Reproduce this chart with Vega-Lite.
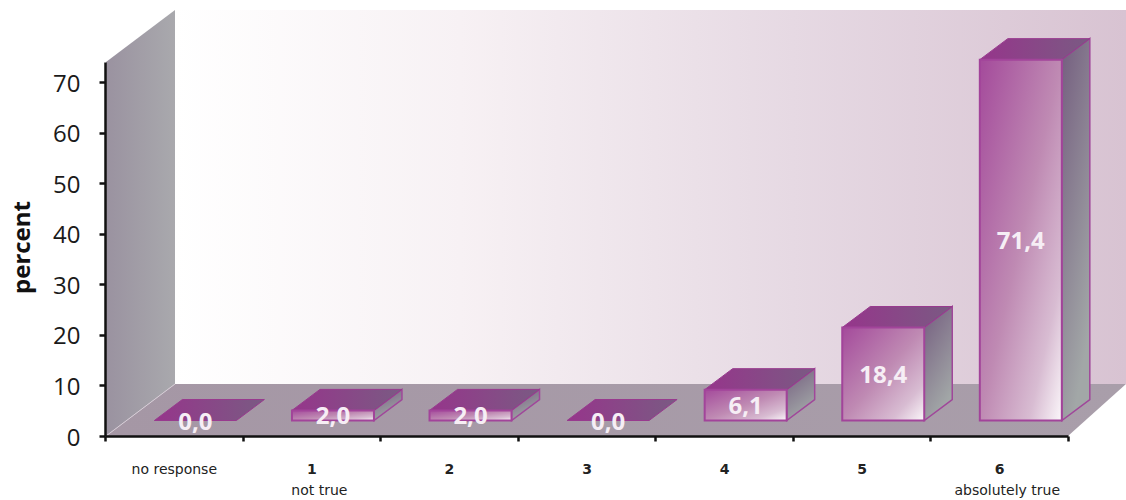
{
"$schema":"https://vega.github.io/schema/vega-lite/v6.json",
"width":963,"height":374,
"autosize":{"type":"none"},
"padding":{"left":105,"top":62,"right":58,"bottom":64},
"background":"white",
"config":{"view":{"stroke":null},"font":"Open Sans"},
"datasets":{
 "bars":[
  {"category":"no response","value":0.0,"label":"0,0","note":""},
  {"category":"1","value":2.0,"label":"2,0","note":"not true"},
  {"category":"2","value":2.0,"label":"2,0","note":""},
  {"category":"3","value":0.0,"label":"0,0","note":""},
  {"category":"4","value":6.1,"label":"6,1","note":""},
  {"category":"5","value":18.4,"label":"18,4","note":""},
  {"category":"6","value":71.4,"label":"71,4","note":"absolutely true"}
 ],
 "origin":[{"category":"no response","value":0}]
},
"encoding":{
 "x":{"field":"category","type":"nominal","sort":null,
  "scale":{"domain":["no response","1","2","3","4","5","6"],"paddingInner":0,"paddingOuter":0},
  "axis":{"title":null,"labelAngle":0,"tickBand":"extent","zindex":1,"domainColor":"#111","domainWidth":2.5,"tickColor":"#111","tickWidth":2.5,"tickSize":5,"labelFont":"DejaVu Sans","labelFontSize":14,"labelColor":"#222","labelPadding":21,
   "labelFontWeight":{"condition":{"test":"datum.value==='no response'","value":"normal"},"value":"bold"}}},
 "y":{"field":"value","type":"quantitative",
  "scale":{"domain":[0,74],"nice":false},
  "axis":{"title":"percent","values":[0,10,20,30,40,50,60,70],"grid":false,"zindex":1,"domainColor":"#111","domainWidth":2.5,"tickColor":"#111","tickWidth":2.5,"tickSize":6,"labelFontSize":24,"labelFontWeight":500,"labelColor":"#1a1a1a","labelPadding":19,"labelOffset":2,"titleFontSize":24,"titleFontWeight":"bold","titleColor":"#111","titleX":-71,"titleY":185}}
},
"layer":[
 {"data":{"name":"origin"},
  "mark":{"type":"point","filled":true,"opacity":1,"size":4,"shape":"M70,-426 L1021,-426 L1021,-52 L70,-52 Z",
   "fill":{"gradient":"linear","x1":0,"y1":0,"x2":1,"y2":0,"stops":[{"offset":0,"color":"#ffffff"},{"offset":0.3,"color":"#f7f1f4"},{"offset":0.65,"color":"#e6d9e3"},{"offset":1,"color":"#d8c3d2"}]}},
  "encoding":{"x":{"field":"category","type":"nominal","sort":null,"bandPosition":0}}},
 {"data":{"name":"origin"},
  "mark":{"type":"point","filled":true,"opacity":1,"size":4,"shape":"M1,-374 L70,-426 L70,-52 L1,0 Z",
   "fill":{"gradient":"linear","x1":0,"y1":0,"x2":1,"y2":0,"stops":[{"offset":0,"color":"#9a92a0"},{"offset":1,"color":"#a9a9ad"}]}},
  "encoding":{"x":{"field":"category","type":"nominal","sort":null,"bandPosition":0}}},
 {"data":{"name":"origin"},
  "mark":{"type":"point","filled":true,"opacity":1,"size":4,"shape":"M1,0 L70,-52 L1021,-52 L963,0 Z",
   "fill":{"gradient":"linear","x1":0,"y1":0,"x2":1,"y2":0,"stops":[{"offset":0,"color":"#a597a5"},{"offset":1,"color":"#a99eaa"}]}},
  "encoding":{"x":{"field":"category","type":"nominal","sort":null,"bandPosition":0}}},
 {"data":{"name":"origin"},
  "mark":{"type":"point","filled":false,"opacity":1,"size":4,"stroke":"#d6ccd6","strokeWidth":1,"shape":"M1,0 L70,-52"},
  "encoding":{"x":{"field":"category","type":"nominal","sort":null,"bandPosition":0}}},
 {"data":{"name":"bars"},"transform":[{"filter":"datum.value>0"}],
  "mark":{"type":"point","filled":true,"opacity":1,"size":4,"stroke":"#a0479a","strokeWidth":1.5,
   "fill":{"gradient":"linear","x1":0,"y1":0,"x2":0.4,"y2":1,"stops":[{"offset":0,"color":"#745d7f"},{"offset":1,"color":"#a2a7a7"}]}},
  "encoding":{
   "y":{"datum":0},
   "shape":{"field":"category","type":"nominal","legend":null,
    "scale":{"domain":["1","2","4","5","6"],"range":[
     "M62.6,-25.6 L90.6,-46.6 L90.6,-36.5 L62.6,-15.5 Z",
     "M62.6,-25.6 L90.6,-46.6 L90.6,-36.5 L62.6,-15.5 Z",
     "M62.6,-46.3 L90.6,-67.3 L90.6,-36.5 L62.6,-15.5 Z",
     "M62.6,-108.5 L90.6,-129.5 L90.6,-36.5 L62.6,-15.5 Z",
     "M62.6,-376.6 L90.6,-397.6 L90.6,-36.5 L62.6,-15.5 Z"]}}}},
 {"data":{"name":"bars"},
  "mark":{"type":"point","filled":true,"opacity":1,"size":4,"stroke":"#983a8e","strokeWidth":1,"shape":"M-19.4,-15.5 L62.6,-15.5 L90.6,-36.5 L8.6,-36.5 Z",
   "fill":{"gradient":"linear","x1":0,"y1":0.5,"x2":1,"y2":0.5,"stops":[{"offset":0,"color":"#96358b"},{"offset":1,"color":"#7a5a83"}]}}},
 {"data":{"name":"bars"},"transform":[{"filter":"datum.value>0"}],
  "mark":{"type":"bar","width":82,"xOffset":21.6,"yOffset":-15.5,"y2Offset":-15.5,"stroke":"#a2449a","strokeWidth":2,
   "fill":{"gradient":"linear","x1":0,"y1":0,"x2":1,"y2":1,"stops":[{"offset":0,"color":"#a44a9b"},{"offset":0.5,"color":"#bf8ab3"},{"offset":0.8,"color":"#d8bcd2"},{"offset":1,"color":"#fbf7fa"}]}}},
 {"data":{"name":"bars"},
  "mark":{"type":"text","font":"Open Sans","fontSize":24,"fontWeight":"bold","color":"#f6eef5","align":"center","baseline":"middle","xOffset":21.6,"yOffset":{"expr":"datum.value*2.5285-13.5"}},
  "encoding":{"text":{"field":"label"}}},
 {"data":{"name":"bars"},"transform":[{"filter":"datum.note!==''"}],
  "mark":{"type":"text","font":"DejaVu Sans","fontSize":14,"color":"#222","align":"center","baseline":"middle","xOffset":8,"yOffset":55},
  "encoding":{"y":{"datum":0},"text":{"field":"note"}}}
]
}
